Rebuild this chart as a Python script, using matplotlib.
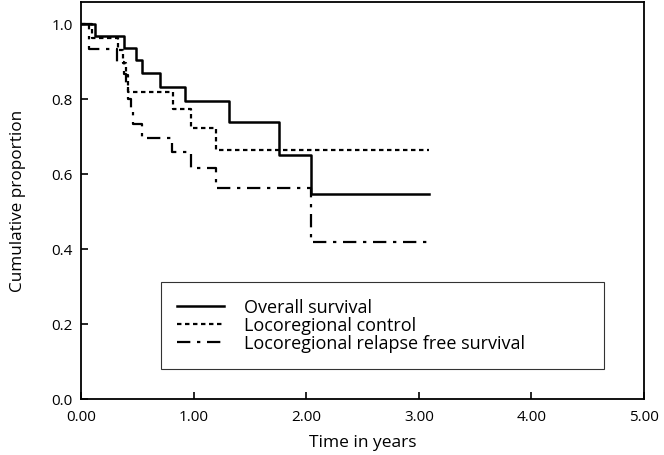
import numpy as np
import matplotlib.pyplot as plt

plt.rcParams["font.family"] = ["Open Sans", "DejaVu Sans"]

# Kaplan-Meier step curves (time in years, cumulative proportion)
os_time = [0.0, 0.12, 0.38, 0.49, 0.54, 0.70, 0.92, 1.31, 1.76, 2.04, 3.09]
os_surv = [1.0, 0.967, 0.935, 0.905, 0.869, 0.832, 0.795, 0.738, 0.652, 0.546, 0.546]

lc_time = [0.0, 0.10, 0.33, 0.37, 0.40, 0.42, 0.82, 0.98, 1.20, 3.09]
lc_surv = [1.0, 0.964, 0.930, 0.897, 0.865, 0.820, 0.773, 0.724, 0.663, 0.663]

rfs_time = [0.0, 0.07, 0.32, 0.38, 0.40, 0.42, 0.44, 0.46, 0.54, 0.81, 0.98, 1.20, 2.04, 3.09]
rfs_surv = [1.0, 0.933, 0.900, 0.867, 0.833, 0.800, 0.767, 0.733, 0.697, 0.658, 0.616, 0.563, 0.420, 0.420]

labels = ["Overall survival", "Locoregional control", "Locoregional relapse free survival"]
x_ticks = [0, 1, 2, 3, 4, 5]
y_ticks = [0.0, 0.2, 0.4, 0.6, 0.8, 1.0]

fig = plt.figure(figsize=(6.64, 4.55), dpi=100)
ax = fig.add_axes([0.122, 0.123, 0.848, 0.872])

ax.step(os_time, os_surv, where="post", color="black", lw=1.8, linestyle="-", label=labels[0])
ax.step(lc_time, lc_surv, where="post", color="black", lw=1.6, linestyle=(0, (2, 1.6)), label=labels[1])
ax.step(rfs_time, rfs_surv, where="post", color="black", lw=1.6, linestyle=(0, (6, 3, 1.5, 3)), label=labels[2])

ax.set_xlim(0, 5)
ax.set_ylim(0, 1.058)
ax.set_xticks(x_ticks)
ax.set_xticklabels([f"{t:.2f}" for t in x_ticks])
ax.set_yticks(y_ticks)
ax.set_yticklabels([f"{t:.1f}" for t in y_ticks])
ax.tick_params(axis="both", direction="in", length=5, width=1.2, labelsize=11, color="black")
ax.tick_params(axis="x", pad=8)
ax.tick_params(axis="y", pad=6)
for s in ax.spines.values():
    s.set_linewidth(1.3)

ax.set_xlabel("Time in years", fontsize=12.5, labelpad=7)
ax.set_ylabel("Cumulative proportion", fontsize=12.3, labelpad=18)

leg = ax.legend(loc="lower left", bbox_to_anchor=(0.142, 0.076, 0.787, 0.216), mode="expand",
                borderaxespad=0, frameon=True, fancybox=False, edgecolor="black", fontsize=13,
                handlelength=2.6, labelspacing=0.0, borderpad=0.9, handletextpad=1.1)
leg.get_frame().set_linewidth(0.8)

fig.savefig("out.png", dpi=100)
